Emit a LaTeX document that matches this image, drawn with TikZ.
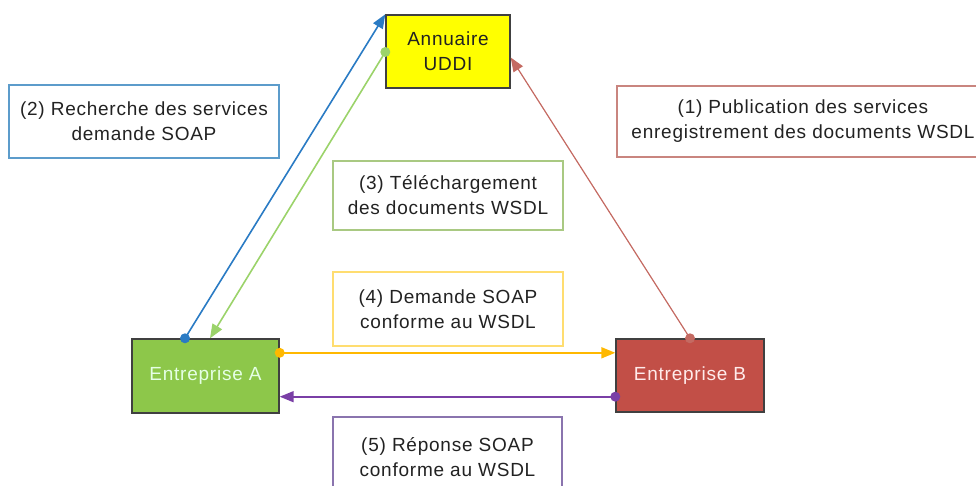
\documentclass[tikz,border=0pt]{standalone}
\usepackage{fontspec}
\setmainfont{Liberation Sans}[LetterSpace=4]
\usetikzlibrary{arrows.meta}
\definecolor{uddiyellow}{HTML}{FFFF00}
\definecolor{entagreen}{HTML}{8DC74A}
\definecolor{entbred}{HTML}{C24F47}
\definecolor{cblue}{HTML}{2A7BC4}
\definecolor{cgreen}{HTML}{9BD36A}
\definecolor{cred}{HTML}{C46A62}
\definecolor{corange}{HTML}{FFB800}
\definecolor{cpurple}{HTML}{7A3FA6}
\definecolor{bblue}{HTML}{5C9CCB}
\definecolor{bred}{HTML}{C9857F}
\definecolor{bgreen}{HTML}{A9C982}
\definecolor{byellow}{HTML}{FFDD70}
\definecolor{bpurple}{HTML}{8A74AE}
\definecolor{txt}{HTML}{222222}
\tikzset{
  every node/.style={font=\fontsize{19}{25}\selectfont, align=center, inner sep=0pt},
  actor/.style={draw=#1, line width=1.4pt, text=txt},
  labelbox/.style={draw=#1, line width=1.3pt, fill=white, text=txt},
  conn/.style={draw=#1, line width=1.6pt, -{Triangle[length=14pt,width=11pt]}, fill=#1},
  dotend/.style={fill=#1},
}
\begin{document}
\begin{tikzpicture}[x=1pt, y=-1pt]
  \useasboundingbox (0,0) rectangle (976,486);
  \clip (0,0) rectangle (976,486);

  % actors
  \node[actor=black!75, fill=uddiyellow, minimum width=124pt, minimum height=73pt]
    (u) at (448,51.5) {Annuaire\\UDDI};
  \node[actor=black!75, fill=entagreen, text={green!10!white}, minimum width=147pt, minimum height=74pt]
    (a) at (205.5,376) {Entreprise A};
  \node[actor=black!75, fill=entbred, text={red!8!white}, minimum width=148pt, minimum height=73pt]
    (b) at (690,375.5) {Entreprise B};

  % step descriptions
  \node[labelbox=bred, minimum width=372pt, minimum height=71pt]
    (l1) at (803,121.5) {(1) Publication des services\\enregistrement des documents WSDL};
  \node[labelbox=bblue, minimum width=270pt, minimum height=73pt]
    (l2) at (144,121.5) {(2) Recherche des services\\demande SOAP};
  \node[labelbox=bgreen, minimum width=230pt, minimum height=69pt]
    (l3) at (448,195.5) {(3) Téléchargement\\des documents WSDL};
  \node[labelbox=byellow, minimum width=230pt, minimum height=74pt]
    (l4) at (448,309) {(4) Demande SOAP\\conforme au WSDL};
  \node[labelbox=bpurple, minimum width=229pt, minimum height=80pt]
    (l5) at (447.5,457) {(5) Réponse SOAP\\conforme au WSDL};

  % connector end points on the box borders
  \coordinate (blueS) at ([xshift=-20.5pt]a.north);
  \coordinate (greenS) at ([yshift=-0.5pt]u.west);
  \coordinate (greenE) at ([xshift=4.5pt]a.north);
  \coordinate (redS) at (b.north);
  \coordinate (redE) at ([yshift=-6pt]u.east);
  \coordinate (orS) at ([yshift=-14.5pt]a.north east);
  \coordinate (orE) at ([yshift=-14.5pt]b.north west);
  \coordinate (puS) at ([yshift=16pt]b.south west);
  \coordinate (puE) at ([yshift=17pt]a.south east);

  % (1) publication
  \draw[conn=cred, line width=1.2pt] (redS) -- (redE);
  \fill[dotend=cred] (redS) circle (5pt);
  % (2) search
  \draw[conn=cblue] (blueS) -- (u.north west);
  \fill[dotend=cblue] (blueS) circle (5pt);
  % (3) download
  \draw[conn=cgreen] (greenS) -- (greenE);
  \fill[dotend=cgreen] (greenS) circle (5pt);
  % (4) SOAP request
  \draw[conn=corange, line width=1.9pt] (orS) -- (orE);
  \fill[dotend=corange] (orS) circle (5pt);
  % (5) SOAP response
  \draw[conn=cpurple] (puS) -- (puE);
  \fill[dotend=cpurple] (puS) circle (5pt);
\end{tikzpicture}
\end{document}
